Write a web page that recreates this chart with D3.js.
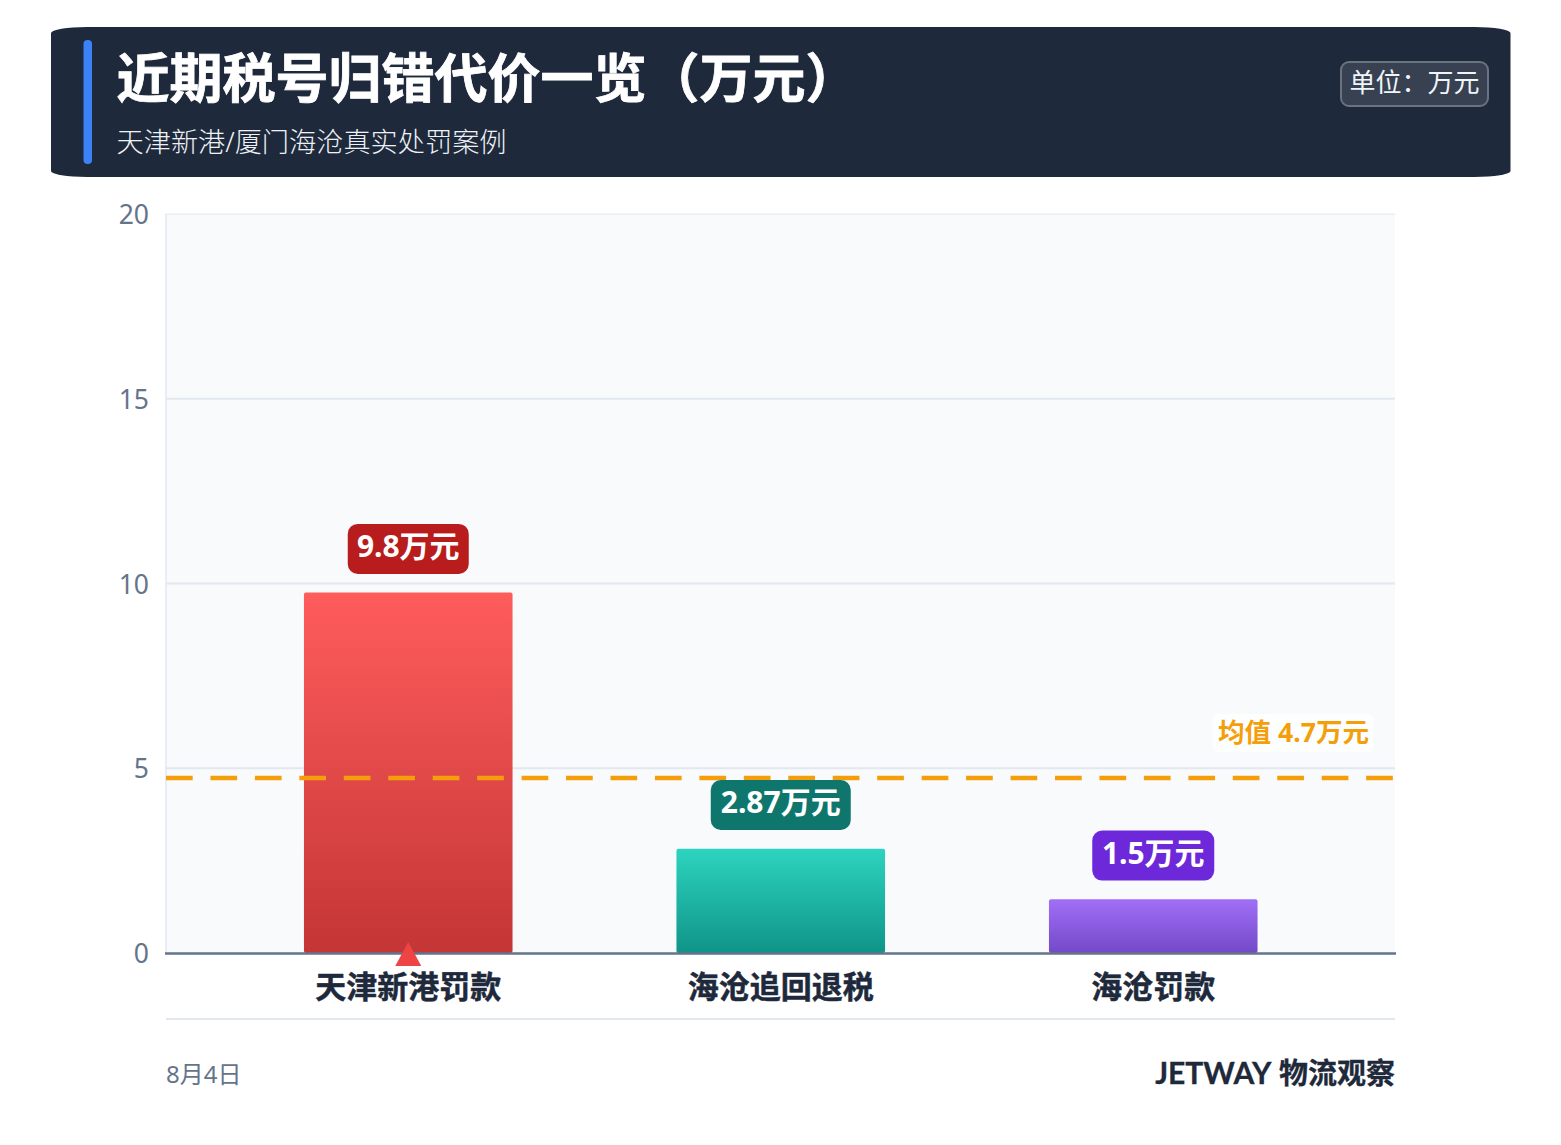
<!DOCTYPE html>
<html><head><meta charset="utf-8">
<style>html,body{margin:0;padding:0;background:#fff}svg{display:block}text{font-family:"Noto Sans","Noto Sans CJK SC",sans-serif}</style>
<script src="https://cdn.jsdelivr.net/npm/d3@7/dist/d3.min.js"></script></head>
<body><svg id="c" width="1561" height="1145"></svg>
<script>
const categories=["天津新港罚款","海沧追回退税","海沧罚款"];
const values=[9.8,2.87,1.5];
const valueLabels=["9.8万元","2.87万元","1.5万元"];
const yTicks=[0,5,10,15,20];
const meanValue=4.7;
const meanLabel="均值 4.7万元";
const titleText="近期税号归错代价一览（万元）";
const subtitleText="天津新港/厦门海沧真实处罚案例";
const unitText="单位：万元";
const dateText="8月4日";
const brandLatin="JETWAY";
const brandCjk=" 物流观察";
const gradStops=[["#ff5c5c","#c43535"],["#2dd4bf","#0f9488"],["#a06ff7","#7449c8"]];
const labelFills=["#b91c1c","#0f766e","#6d28d9"];

const svg=d3.select("#c");
const x=d3.scaleBand().domain(categories).range([222,1339.5]).paddingInner(0.44).paddingOuter(0.22);
const y=d3.scaleLinear().domain([0,20]).range([953,214]);
const L=166,R=1395;

const defs=svg.append("defs");
gradStops.forEach((g,i)=>{
  const lg=defs.append("linearGradient").attr("id","g"+i).attr("x1",0).attr("x2",0).attr("y1",0).attr("y2",1);
  lg.append("stop").attr("offset",0).attr("stop-color",g[0]);
  lg.append("stop").attr("offset",1).attr("stop-color",g[1]);
});

// header
svg.append("rect").attr("x",51).attr("y",27).attr("width",1459.5).attr("height",150).attr("rx",36).attr("ry",6).attr("fill","#1e293b");
svg.append("rect").attr("x",83.5).attr("y",40).attr("width",8.5).attr("height",124).attr("rx",4).attr("fill","#3b82f6");
svg.append("text").attr("x",116.5).attr("y",98).attr("font-size",53).attr("font-weight",700).attr("fill","#fff")
  .attr("stroke","#fff").attr("stroke-width",0.8).text(titleText);
svg.append("text").attr("x",116.5).attr("y",152).attr("font-size",27.2).attr("font-weight",300).attr("fill","#eef2f6").text(subtitleText);
svg.append("rect").attr("x",1341).attr("y",62).attr("width",147).attr("height",44).attr("rx",8).attr("fill","#374151").attr("stroke","#6b7280").attr("stroke-width",2);
svg.append("text").attr("x",1414.5).attr("y",92).attr("text-anchor","middle").attr("font-size",26).attr("fill","#f1f5f9").text(unitText);

// plot
svg.append("rect").attr("x",L).attr("y",214).attr("width",R-L).attr("height",739).attr("fill","#f8fafc");
svg.append("line").attr("x1",L).attr("x2",L).attr("y1",214).attr("y2",953).attr("stroke","#e2e8f0").attr("stroke-width",1.5);
const yAxis=svg.append("g").attr("transform",`translate(${L},0)`).call(d3.axisLeft(y).tickValues(yTicks).tickSize(0).tickPadding(17).tickFormat(d3.format("d")));
yAxis.select(".domain").remove();
yAxis.selectAll("text").attr("font-size",26.5).attr("dy","0.36em").attr("fill","#64748b").attr("font-family",'"Noto Sans","Noto Sans CJK SC",sans-serif');
svg.append("g").selectAll("line").data(yTicks.filter(d=>d>0)).join("line")
  .attr("x1",L).attr("x2",R).attr("y1",d=>y(d)).attr("y2",d=>y(d)).attr("stroke","#e2e8f0").attr("stroke-width",d=>d===20?1:2);

// bars
svg.append("g").selectAll("rect").data(values).join("rect")
  .attr("x",(d,i)=>x(categories[i])).attr("width",x.bandwidth())
  .attr("y",d=>y(d)+1.7).attr("height",d=>y(0)-y(d)-1.7).attr("rx",2)
  .attr("fill",(d,i)=>`url(#g${i})`);

// baseline
svg.append("line").attr("x1",L-1).attr("x2",R+1).attr("y1",953.5).attr("y2",953.5).attr("stroke","#64748b").attr("stroke-width",2.5);

// triangle marker
const cx=x(categories[0])+x.bandwidth()/2;
svg.append("path").attr("transform",`translate(${cx},0)`).attr("d","M0,942L13,966L-13,966Z").attr("fill","#ef4444");

// mean
svg.append("line").attr("x1",L).attr("x2",R).attr("y1",y(meanValue)-1.35).attr("y2",y(meanValue)-1.35)
  .attr("stroke","#f59e0b").attr("stroke-width",4.4).attr("stroke-dasharray","26.7 17.75");
svg.append("rect").attr("x",1213).attr("y",714).attr("width",160).attr("height",38).attr("rx",5).attr("fill","#fff").attr("fill-opacity",.7);
svg.append("text").attr("x",1293.5).attr("y",742).attr("text-anchor","middle").attr("font-size",26.6).attr("font-weight",700).attr("fill","#f59e0b").text(meanLabel);

// value labels
const lw=[121,140,122];
const lg=svg.append("g").selectAll("g").data(values).join("g");
lg.append("rect").attr("x",(d,i)=>x(categories[i])+x.bandwidth()/2-lw[i]/2).attr("width",(d,i)=>lw[i])
  .attr("y",d=>y(d)-67).attr("height",50).attr("rx",10).attr("fill",(d,i)=>labelFills[i]);
lg.append("text").attr("x",(d,i)=>x(categories[i])+x.bandwidth()/2).attr("y",d=>y(d)-33.5)
  .attr("text-anchor","middle").attr("font-size",30).attr("font-weight",700).attr("fill","#fff").text((d,i)=>valueLabels[i]);

// categories
svg.append("g").selectAll("text").data(categories).join("text")
  .attr("x",d=>x(d)+x.bandwidth()/2).attr("y",997.5).attr("text-anchor","middle")
  .attr("font-size",31).attr("font-weight",700).attr("fill","#1e293b").attr("stroke","#1e293b").attr("stroke-width",0.5).text(d=>d);

// footer
svg.append("line").attr("x1",L).attr("x2",R).attr("y1",1019).attr("y2",1019).attr("stroke","#e2e8f0").attr("stroke-width",2);
svg.append("text").attr("x",L).attr("y",1083).attr("font-size",24).attr("fill","#64748b").text(dateText);
const brand=svg.append("text").attr("x",R).attr("y",1084).attr("text-anchor","end").attr("font-size",29).attr("font-weight",700).attr("fill","#1e293b").attr("stroke","#1e293b").attr("stroke-width",0.3);
brand.append("tspan").style("font-family",'Lato,"Noto Sans",sans-serif').attr("font-size",30).text(brandLatin);
brand.append("tspan").text(brandCjk);
</script></body></html>
